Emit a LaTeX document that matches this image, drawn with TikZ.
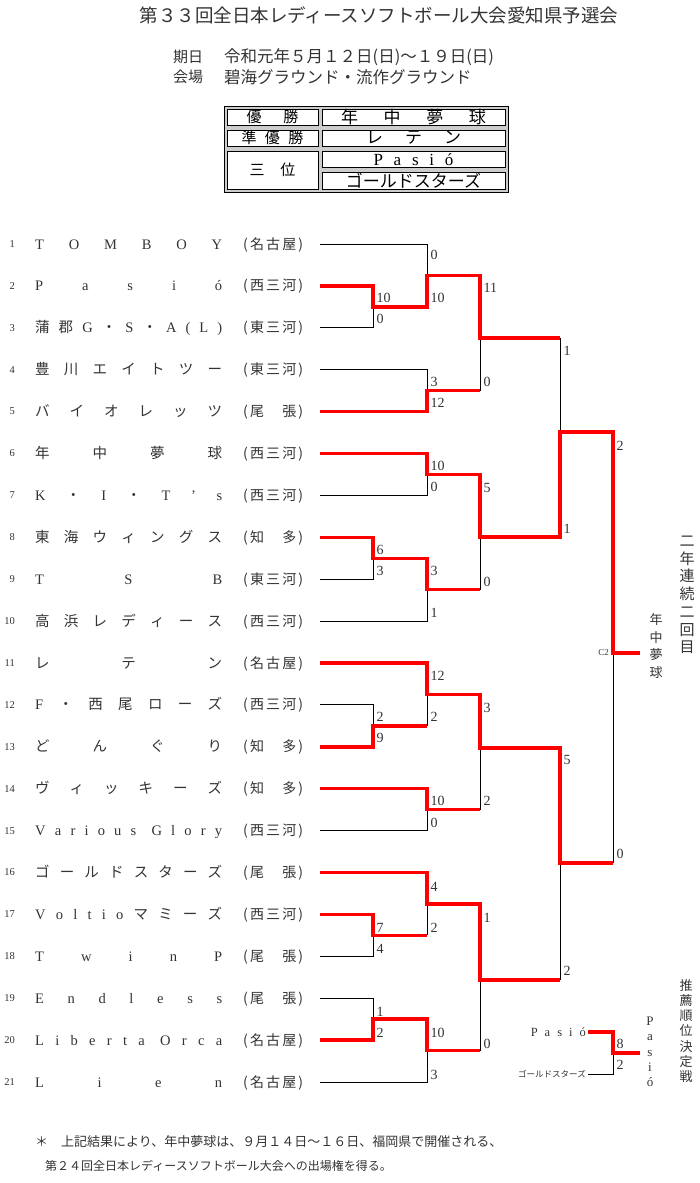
\documentclass[tikz,border=0pt]{standalone}
\usepackage{fontspec}
\setmainfont{Liberation Serif}
\newfontfamily\jp{Noto Sans CJK JP}

\begin{document}
\begin{tikzpicture}[x=1pt,y=-1pt,txt/.style={text=black!80,inner sep=0pt},num/.style={txt,anchor=east,font=\fontsize{10.5}{12}\selectfont},team/.style={txt,anchor=west,text height=12pt,text depth=2pt,font=\fontsize{14.5}{16}\selectfont},area/.style={team,font=\jp\fontsize{14}{16}\selectfont},score/.style={txt,anchor=west,xshift=3.5pt,text height=10pt,text depth=0pt,font=\fontsize{14}{16}\selectfont},win/.style={red,line width=3.5pt},lose/.style={black,line width=1pt},cell/.style={draw,line width=0.8pt,fill=white,inner sep=0pt},vtext/.style={txt,align=center}]
\useasboundingbox (0,0) rectangle (700,1183);
% header
\node[txt,font=\jp\fontsize{18.5}{20}\selectfont] (title) at (379,15) {第３３回全日本レディースソフトボール大会愛知県予選会};
\node[txt,anchor=west,font=\jp\fontsize{15}{16}\selectfont] (datek) at (173,57) {期日};
\node[txt,anchor=west,font=\jp\fontsize{16.5}{18}\selectfont] (date) at (224,57) {令和元年５月１２日(日)～１９日(日)};
\node[txt,anchor=west,font=\jp\fontsize{15}{16}\selectfont] (placek) at (173,77) {会場};
\node[txt,anchor=west,font=\jp\fontsize{16.5}{18}\selectfont] (place) at (224,77) {碧海グラウンド・流作グラウンド};
% result table
\fill[gray!40] (224,106) rectangle (508,192);
\draw[line width=0.8pt] (224,106) rectangle (508,192);
\node[cell,minimum width=91pt,minimum height=16pt,font=\jp\fontsize{15}{16}\selectfont] (firstk) at (272.5,117) {\makebox[52pt][s]{優\hfill 勝}};
\node[cell,minimum width=91pt,minimum height=16pt,font=\jp\fontsize{15}{16}\selectfont] (secondk) at (272.5,138) {\makebox[62pt][s]{準\hfill 優\hfill 勝}};
\node[cell,minimum width=91pt,minimum height=38pt,font=\jp\fontsize{15}{16}\selectfont] (thirdk) at (272.5,170) {\makebox[46pt][s]{三\hfill 位}};
\node[cell,minimum width=183pt,minimum height=16pt,font=\jp\fontsize{17}{18}\selectfont] (first) at (413.5,117) {\makebox[145pt][s]{年\hfill 中\hfill 夢\hfill 球}};
\node[cell,minimum width=183pt,minimum height=16pt,font=\jp\fontsize{17}{18}\selectfont] (second) at (413.5,138) {\makebox[95pt][s]{レ\hfill テ\hfill ン}};
\node[cell,minimum width=183pt,minimum height=16.5pt,font=\fontsize{17}{18}\selectfont] (thirda) at (413.5,159.3) {\makebox[80pt][s]{P\hfill a\hfill s\hfill i\hfill ó}};
\node[cell,minimum width=183pt,minimum height=17pt,font=\jp\fontsize{17}{18}\selectfont] (thirdb) at (413.5,180.5) {ゴールドスターズ};
% teams
\node[num] (n1) at (15,244) {1};
\node[team] (t1) at (35,244) {\makebox[187pt][s]{T\hfill O\hfill M\hfill B\hfill O\hfill Y}};
\node[area] (a1) at (243,244) {\makebox[60pt][s]{(\hfill 名\hfill 古\hfill 屋\hfill)}};
\node[num] (n2) at (15,285.9) {2};
\node[team] (t2) at (35,285.9) {\makebox[187pt][s]{P\hfill a\hfill s\hfill i\hfill ó}};
\node[area] (a2) at (243,285.9) {\makebox[60pt][s]{(\hfill 西\hfill 三\hfill 河\hfill)}};
\node[num] (n3) at (15,327.8) {3};
\node[team] (t3) at (35,327.8) {\makebox[187pt][s]{{\jp 蒲}\hfill{\jp 郡}\hfill G\hfill{\jp ・}\hfill S\hfill{\jp ・}\hfill A\hfill(\hfill L\hfill)}};
\node[area] (a3) at (243,327.8) {\makebox[60pt][s]{(\hfill 東\hfill 三\hfill 河\hfill)}};
\node[num] (n4) at (15,369.7) {4};
\node[team] (t4) at (35,369.7) {\makebox[187pt][s]{\jp 豊\hfill 川\hfill エ\hfill イ\hfill ト\hfill ツ\hfill ー}};
\node[area] (a4) at (243,369.7) {\makebox[60pt][s]{(\hfill 東\hfill 三\hfill 河\hfill)}};
\node[num] (n5) at (15,411.6) {5};
\node[team] (t5) at (35,411.6) {\makebox[187pt][s]{\jp バ\hfill イ\hfill オ\hfill レ\hfill ッ\hfill ツ}};
\node[area] (a5) at (243,411.6) {\makebox[60pt][s]{(\hfill 尾\hfill\phantom{尾}\hfill 張\hfill)}};
\node[num] (n6) at (15,453.5) {6};
\node[team] (t6) at (35,453.5) {\makebox[187pt][s]{\jp 年\hfill 中\hfill 夢\hfill 球}};
\node[area] (a6) at (243,453.5) {\makebox[60pt][s]{(\hfill 西\hfill 三\hfill 河\hfill)}};
\node[num] (n7) at (15,495.4) {7};
\node[team] (t7) at (35,495.4) {\makebox[187pt][s]{K\hfill{\jp ・}\hfill I\hfill{\jp ・}\hfill T\hfill ’\hfill s}};
\node[area] (a7) at (243,495.4) {\makebox[60pt][s]{(\hfill 西\hfill 三\hfill 河\hfill)}};
\node[num] (n8) at (15,537.3) {8};
\node[team] (t8) at (35,537.3) {\makebox[187pt][s]{\jp 東\hfill 海\hfill ウ\hfill ィ\hfill ン\hfill グ\hfill ス}};
\node[area] (a8) at (243,537.3) {\makebox[60pt][s]{(\hfill 知\hfill\phantom{知}\hfill 多\hfill)}};
\node[num] (n9) at (15,579.2) {9};
\node[team] (t9) at (35,579.2) {\makebox[187pt][s]{T\hfill S\hfill B}};
\node[area] (a9) at (243,579.2) {\makebox[60pt][s]{(\hfill 東\hfill 三\hfill 河\hfill)}};
\node[num] (n10) at (15,621.1) {10};
\node[team] (t10) at (35,621.1) {\makebox[187pt][s]{\jp 高\hfill 浜\hfill レ\hfill デ\hfill ィ\hfill ー\hfill ス}};
\node[area] (a10) at (243,621.1) {\makebox[60pt][s]{(\hfill 西\hfill 三\hfill 河\hfill)}};
\node[num] (n11) at (15,663) {11};
\node[team] (t11) at (35,663) {\makebox[187pt][s]{\jp レ\hfill テ\hfill ン}};
\node[area] (a11) at (243,663) {\makebox[60pt][s]{(\hfill 名\hfill 古\hfill 屋\hfill)}};
\node[num] (n12) at (15,704.9) {12};
\node[team] (t12) at (35,704.9) {\makebox[187pt][s]{F\hfill{\jp ・\hfill 西\hfill 尾\hfill ロ\hfill ー\hfill ズ}}};
\node[area] (a12) at (243,704.9) {\makebox[60pt][s]{(\hfill 西\hfill 三\hfill 河\hfill)}};
\node[num] (n13) at (15,746.8) {13};
\node[team] (t13) at (35,746.8) {\makebox[187pt][s]{\jp ど\hfill ん\hfill ぐ\hfill り}};
\node[area] (a13) at (243,746.8) {\makebox[60pt][s]{(\hfill 知\hfill\phantom{知}\hfill 多\hfill)}};
\node[num] (n14) at (15,788.7) {14};
\node[team] (t14) at (35,788.7) {\makebox[187pt][s]{\jp ヴ\hfill ィ\hfill ッ\hfill キ\hfill ー\hfill ズ}};
\node[area] (a14) at (243,788.7) {\makebox[60pt][s]{(\hfill 知\hfill\phantom{知}\hfill 多\hfill)}};
\node[num] (n15) at (15,830.6) {15};
\node[team] (t15) at (35,830.6) {\makebox[187pt][s]{V\hfill a\hfill r\hfill i\hfill o\hfill u\hfill s\hfill\hspace{6pt}G\hfill l\hfill o\hfill r\hfill y}};
\node[area] (a15) at (243,830.6) {\makebox[60pt][s]{(\hfill 西\hfill 三\hfill 河\hfill)}};
\node[num] (n16) at (15,872.5) {16};
\node[team] (t16) at (35,872.5) {\makebox[187pt][s]{\jp ゴ\hfill ー\hfill ル\hfill ド\hfill ス\hfill タ\hfill ー\hfill ズ}};
\node[area] (a16) at (243,872.5) {\makebox[60pt][s]{(\hfill 尾\hfill\phantom{尾}\hfill 張\hfill)}};
\node[num] (n17) at (15,914.4) {17};
\node[team] (t17) at (35,914.4) {\makebox[187pt][s]{V\hfill o\hfill l\hfill t\hfill i\hfill o\hfill{\jp マ\hfill ミ\hfill ー\hfill ズ}}};
\node[area] (a17) at (243,914.4) {\makebox[60pt][s]{(\hfill 西\hfill 三\hfill 河\hfill)}};
\node[num] (n18) at (15,956.3) {18};
\node[team] (t18) at (35,956.3) {\makebox[187pt][s]{T\hfill w\hfill i\hfill n\hfill P}};
\node[area] (a18) at (243,956.3) {\makebox[60pt][s]{(\hfill 尾\hfill\phantom{尾}\hfill 張\hfill)}};
\node[num] (n19) at (15,998.2) {19};
\node[team] (t19) at (35,998.2) {\makebox[187pt][s]{E\hfill n\hfill d\hfill l\hfill e\hfill s\hfill s}};
\node[area] (a19) at (243,998.2) {\makebox[60pt][s]{(\hfill 尾\hfill\phantom{尾}\hfill 張\hfill)}};
\node[num] (n20) at (15,1040.1) {20};
\node[team] (t20) at (35,1040.1) {\makebox[187pt][s]{L\hfill i\hfill b\hfill e\hfill r\hfill t\hfill a\hfill\hspace{4pt}O\hfill r\hfill c\hfill a}};
\node[area] (a20) at (243,1040.1) {\makebox[60pt][s]{(\hfill 名\hfill 古\hfill 屋\hfill)}};
\node[num] (n21) at (15,1082) {21};
\node[team] (t21) at (35,1082) {\makebox[187pt][s]{L\hfill i\hfill e\hfill n}};
\node[area] (a21) at (243,1082) {\makebox[60pt][s]{(\hfill 名\hfill 古\hfill 屋\hfill)}};
% line ends
\coordinate (e1) at (320,244);
\coordinate (e2) at (320,285.9);
\coordinate (e3) at (320,327.8);
\coordinate (e4) at (320,369.7);
\coordinate (e5) at (320,411.6);
\coordinate (e6) at (320,453.5);
\coordinate (e7) at (320,495.4);
\coordinate (e8) at (320,537.3);
\coordinate (e9) at (320,579.2);
\coordinate (e10) at (320,621.1);
\coordinate (e11) at (320,663);
\coordinate (e12) at (320,704.9);
\coordinate (e13) at (320,746.8);
\coordinate (e14) at (320,788.7);
\coordinate (e15) at (320,830.6);
\coordinate (e16) at (320,872.5);
\coordinate (e17) at (320,914.4);
\coordinate (e18) at (320,956.3);
\coordinate (e19) at (320,998.2);
\coordinate (e20) at (320,1040.1);
\coordinate (e21) at (320,1082);
% matches
\coordinate (m23) at (373,306.9);
\coordinate (m123) at (427,275.4);
\coordinate (m45) at (427,390.7);
\coordinate (mq1) at (480,338);
\coordinate (m67) at (427,474.5);
\coordinate (m89) at (373,558.3);
\coordinate (m8910) at (427,589.7);
\coordinate (mq2) at (480,537);
\coordinate (ms1) at (560,432);
\coordinate (m1213) at (373,725.9);
\coordinate (m1113) at (427,694.4);
\coordinate (m1415) at (427,809.7);
\coordinate (mq3) at (480,748);
\coordinate (m1718) at (373,935.4);
\coordinate (m1618) at (427,903.9);
\coordinate (m1920) at (373,1019.2);
\coordinate (m1921) at (427,1050.6);
\coordinate (mq4) at (480,980);
\coordinate (ms2) at (560,863);
\coordinate (mf) at (613,653);
\coordinate (fin) at (640,653);
% losers
\draw[lose] (e1) -| (m123);
\draw[lose] (e3) -| (m23);
\draw[lose] (e4) -| (m45);
\draw[lose] (m45 -| mq1) -- (mq1);
\draw[lose] (e7) -| (m67);
\draw[lose] (e9) -| (m89);
\draw[lose] (e10) -| (m8910);
\draw[lose] (m8910 -| mq2) -- (mq2);
\draw[lose] (mq1 -| ms1) -- (ms1);
\draw[lose] (e12) -| (m1213);
\draw[lose] (m1213 -| m1113) -- (m1113);
\draw[lose] (e15) -| (m1415);
\draw[lose] (m1415 -| mq3) -- (mq3);
\draw[lose] (e18) -| (m1718);
\draw[lose] (m1718 -| m1618) -- (m1618);
\draw[lose] (e19) -| (m1920);
\draw[lose] (e21) -| (m1921);
\draw[lose] (m1921 -| mq4) -- (mq4);
\draw[lose] (mq4 -| ms2) -- (ms2);
\draw[lose] (ms2 -| mf) -- (mf);
% winners
\draw[win] (e2) -| (m23) -| (m123) -| (mq1) -- (mq1 -| ms1);
\draw[win] (e5) -| (m45) -- (m45 -| mq1);
\draw[win] (e6) -| (m67) -| (mq2) -| (ms1) -| (mf) -- (fin);
\draw[win] (e8) -| (m89) -| (m8910) -- (m8910 -| mq2);
\draw[win] (e11) -| (m1113) -| (mq3) -| (ms2) -- (ms2 -| mf);
\draw[win] (e13) -| (m1213) -- (m1213 -| m1113);
\draw[win] (e14) -| (m1415) -- (m1415 -| mq3);
\draw[win] (e16) -| (m1618) -| (mq4) -- (mq4 -| ms2);
\draw[win] (e17) -| (m1718) -- (m1718 -| m1618);
\draw[win] (e20) -| (m1920) -| (m1921) -- (m1921 -| mq4);
% scores
\node[score] (s1) at (373,297) {10};
\node[score] (s2) at (373,318) {0};
\node[score] (s3) at (427,254) {0};
\node[score] (s4) at (427,297) {10};
\node[score] (s5) at (427,381) {3};
\node[score] (s6) at (427,402) {12};
\node[score] (s7) at (480,287) {11};
\node[score] (s8) at (480,381) {0};
\node[score] (s9) at (427,465) {10};
\node[score] (s10) at (427,486) {0};
\node[score] (s11) at (373,549) {6};
\node[score] (s12) at (373,570) {3};
\node[score] (s13) at (427,570) {3};
\node[score] (s14) at (427,612) {1};
\node[score] (s15) at (480,487) {5};
\node[score] (s16) at (480,581) {0};
\node[score] (s17) at (560,350) {1};
\node[score] (s18) at (560,528) {1};
\node[score] (s19) at (373,716) {2};
\node[score] (s20) at (373,737) {9};
\node[score] (s21) at (427,675) {12};
\node[score] (s22) at (427,716) {2};
\node[score] (s23) at (427,800) {10};
\node[score] (s24) at (427,822) {0};
\node[score] (s25) at (480,707) {3};
\node[score] (s26) at (480,800) {2};
\node[score] (s27) at (373,927) {7};
\node[score] (s28) at (373,948) {4};
\node[score] (s29) at (427,886) {4};
\node[score] (s30) at (427,927) {2};
\node[score] (s31) at (373,1011) {1};
\node[score] (s32) at (373,1032) {2};
\node[score] (s33) at (427,1032) {10};
\node[score] (s34) at (427,1074) {3};
\node[score] (s35) at (480,917) {1};
\node[score] (s36) at (480,1043) {0};
\node[score] (s37) at (560,759) {5};
\node[score] (s38) at (560,970) {2};
\node[score] (s39) at (613,445) {2};
\node[score] (s40) at (613,853) {0};
\node[txt,anchor=east,font=\fontsize{9}{10}\selectfont] (c2) at (609,653) {C2};
% third place
\node[txt,anchor=east,font=\fontsize{12.5}{14}\selectfont] (p3a) at (586,1032) {\makebox[55pt][s]{P\hfill a\hfill s\hfill i\hfill ó}};
\node[txt,anchor=east,font=\jp\fontsize{8.5}{10}\selectfont] (p3b) at (586,1074) {ゴールドスターズ};
\coordinate (m3rd) at (613,1053);
\coordinate (fin3) at (640,1053);
\draw[lose] ([xshift=2pt]p3b.east) -| (m3rd);
\draw[win] ([xshift=2pt]p3a.east) -| (m3rd) -- (fin3);
\node[score] (s41) at (613,1043) {8};
\node[score] (s42) at (613,1064) {2};
% side notes
\node[vtext,font=\jp\fontsize{13}{17.5}\selectfont] (champ) at (656,646) {年\\中\\夢\\球};
\node[vtext,font=\jp\fontsize{15}{17.7}\selectfont] (twice) at (687,595) {二\\年\\連\\続\\二\\回\\目};
\node[vtext,font=\jp\fontsize{13}{15.3}\selectfont] (rank) at (686,1031) {推\\薦\\順\\位\\決\\定\\戦};
\node[vtext,font=\fontsize{13}{15.3}\selectfont] (third) at (650,1052) {P\\a\\s\\i\\ó};
% footnote
\node[txt,anchor=west,font=\jp\fontsize{13}{14}\selectfont] (note1) at (35,1142) {＊　上記結果により、年中夢球は、９月１４日～１６日、福岡県で開催される、};
\node[txt,anchor=west,font=\jp\fontsize{12}{14}\selectfont] (note2) at (45,1166) {第２４回全日本レディースソフトボール大会への出場権を得る。};
\end{tikzpicture}
\end{document}
